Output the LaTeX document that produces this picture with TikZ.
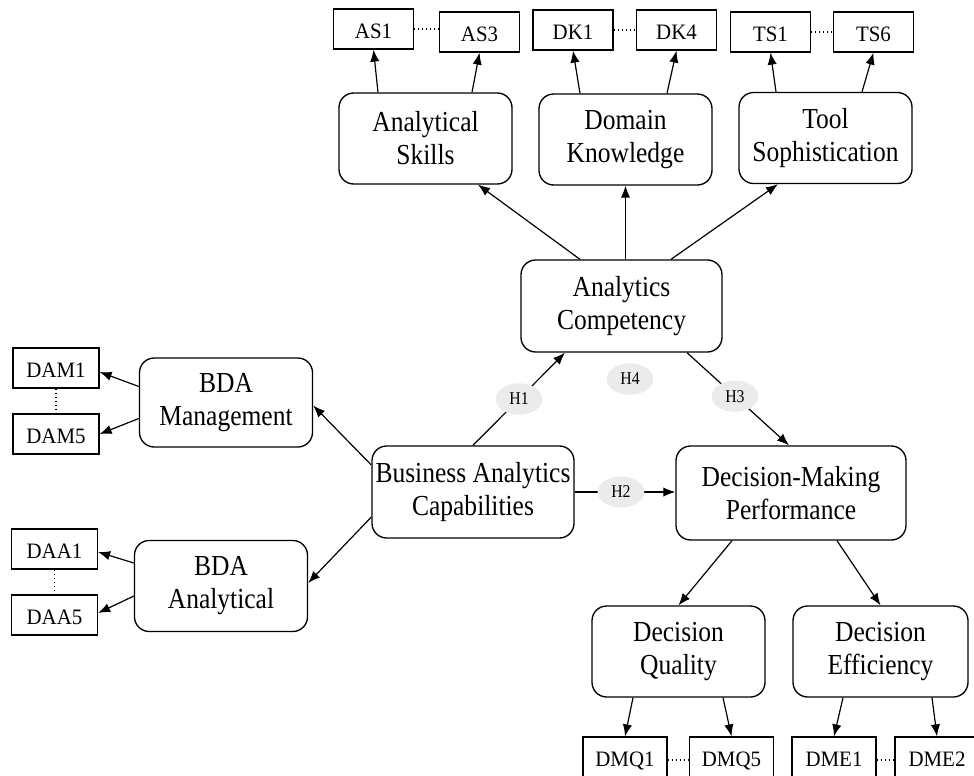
\documentclass[tikz,border=0pt]{standalone}
\usepackage{fontspec}
\setmainfont{Liberation Serif}[FakeStretch=0.88]
\newfontfamily\indfont{Liberation Serif}[FakeStretch=0.95]
\usetikzlibrary{arrows.meta,calc,shapes.geometric}
\definecolor{hgray}{HTML}{EBEBEB}
\begin{document}
\begin{tikzpicture}[x=0.75pt,y=-0.75pt,
  big/.style={draw,rounded corners=11pt,line width=1pt,align=center,inner sep=0pt,
    minimum width=129.75pt,minimum height=68.25pt,font=\fontsize{21.75}{24.75}\selectfont},
  ind/.style={draw,line width=0.9pt,inner sep=0pt,minimum width=60pt,minimum height=30pt,
    text height=14.5pt,text depth=0pt,font=\indfont\fontsize{16.5}{18}\selectfont},
  hyp/.style={ellipse,fill=hgray,inner sep=0pt,minimum width=35pt,minimum height=23.5pt,
    font=\fontsize{13.5}{15}\selectfont},
  arr/.style={-{Latex[length=9pt,width=7pt]},line width=0.9pt},
  dots/.style={dotted,line width=1pt}]
\useasboundingbox (0,0) rectangle (974,775);

% main constructs
\node[big,minimum width=150.75pt,minimum height=69pt] (ac) at (621.5,306) {Analytics\\Competency};
\node[big,minimum width=151.5pt,minimum height=69pt] (bac) at (473,492) {Business Analytics\\Capabilities};
\node[big,minimum width=172.5pt,minimum height=70.5pt] (dmp) at (791,493) {Decision-Making\\Performance};
\node[big,minimum height=66.75pt] (bdm) at (226,402.5) {BDA\\Management};
\node[big] (bda) at (221,586) {BDA\\Analytical};
\node[big] (as) at (425.5,138.5) {Analytical\\Skills};
\node[big] (dk) at (625.5,139.5) {Domain\\Knowledge};
\node[big] (ts) at (825.5,138) {Tool\\Sophistication};
\node[big] (dq) at (678.5,651.5) {Decision\\Quality};
\node[big,minimum width=131.25pt] (de) at (880.5,651.5) {Decision\\Efficiency};

% indicators
\node[ind] (as1) at (373.5,29) {AS1};
\node[ind] (as3) at (479.5,32) {AS3};
\node[ind] (dk1) at (573,30) {DK1};
\node[ind] (dk4) at (676.5,30) {DK4};
\node[ind] (ts1) at (770.5,32) {TS1};
\node[ind] (ts6) at (873.5,32) {TS6};
\node[ind,minimum width=64.5pt] (dam1) at (56,368) {DAM1};
\node[ind,minimum width=64.5pt] (dam5) at (56,434) {DAM5};
\node[ind,minimum width=64.5pt] (daa1) at (54.5,549) {DAA1};
\node[ind,minimum width=64.5pt] (daa5) at (54.5,615) {DAA5};
\node[ind,minimum width=63pt] (dmq1) at (625,757) {DMQ1};
\node[ind,minimum width=63pt] (dmq5) at (731.5,757) {DMQ5};
\node[ind,minimum width=63pt] (dme1) at (834,757) {DME1};
\node[ind,minimum width=63pt] (dme2) at (937,757) {DME2};

% dotted links
\draw[dots] (as1.east) -- (as1.east -| as3.west);
\draw[dots] (dk1.east) -- (dk4.west);
\draw[dots] (ts1.east) -- (ts6.west);
\draw[dots] (dam1.south) -- (dam5.north);
\draw[dots] (daa1.south) -- (daa5.north);
\draw[dots] ($(dmq1.east)+(0,3)$) -- ($(dmq5.west)+(0,3)$);
\draw[dots] ($(dme1.east)+(0,3)$) -- ($(dme2.west)+(0,3)$);

% reflective arrows top
\draw[arr] ($(as.north)+(-47.5,0)$) -- (as1.south);
\draw[arr] ($(as.north)+(46.5,0)$) -- (as3.south);
\draw[arr] ($(dk.north)+(-45.5,0)$) -- (dk1.south);
\draw[arr] ($(dk.north)+(41.5,0)$) -- (dk4.south);
\draw[arr] ($(ts.north)+(-49.5,0)$) -- (ts1.south);
\draw[arr] ($(ts.north)+(36.5,0)$) -- (ts6.south);

% AC to dimensions
\draw[arr] ($(ac.north)+(-41.5,0)$) -- ($(as.south)+(52.5,0)$);
\draw[arr] ($(ac.north)+(4,0)$) -- (dk.south);
\draw[arr] ($(ac.north)+(49.5,0)$) -- ($(ts.south)+(-47.5,0)$);

% left side
\draw[arr] ($(bac.west)+(0,-27)$) -- ($(bdm.east)+(0,3)$);
\draw[arr] ($(bac.west)+(0,25)$) -- ($(bda.east)+(0,-3)$);
\draw[arr] ($(bdm.west)+(0,-16)$) -- ($(dam1.east)+(0,4)$);
\draw[arr] ($(bdm.west)+(0,16)$) -- (dam5.east);
\draw[arr] ($(bda.west)+(0,-23)$) -- ($(daa1.east)+(0,3)$);
\draw[arr] ($(bda.west)+(0,10)$) -- ($(daa5.east)+(0,-2)$);

% bottom
\draw[arr] ($(dmp.south)+(-59,0)$) -- (dq.north);
\draw[arr] ($(dmp.south)+(46,0)$) -- (de.north);
\draw[arr] ($(dq.south)+(-45.5,0)$) -- (dmq1.north);
\draw[arr] ($(dq.south)+(44.5,0)$) -- (dmq5.north);
\draw[arr] ($(de.south)+(-37.5,0)$) -- (dme1.north);
\draw[arr] ($(de.south)+(51.5,0)$) -- (dme2.north);

% hypotheses
\draw[arr] (bac.north) -- node[hyp] (h1) {H1} ($(ac.south)+(-56.5,0)$);
\draw[arr] ($(ac.south)+(65.5,0)$) -- node[hyp,pos=0.47] (h3) {H3} ($(dmp.north)+(-2,0)$);
\draw[arr] (bac.east) -- node[hyp,pos=0.46] (h2) {H2} (bac.east -| dmp.west);
\node[hyp] (h4) at (630,379) {H4};
\end{tikzpicture}
\end{document}
